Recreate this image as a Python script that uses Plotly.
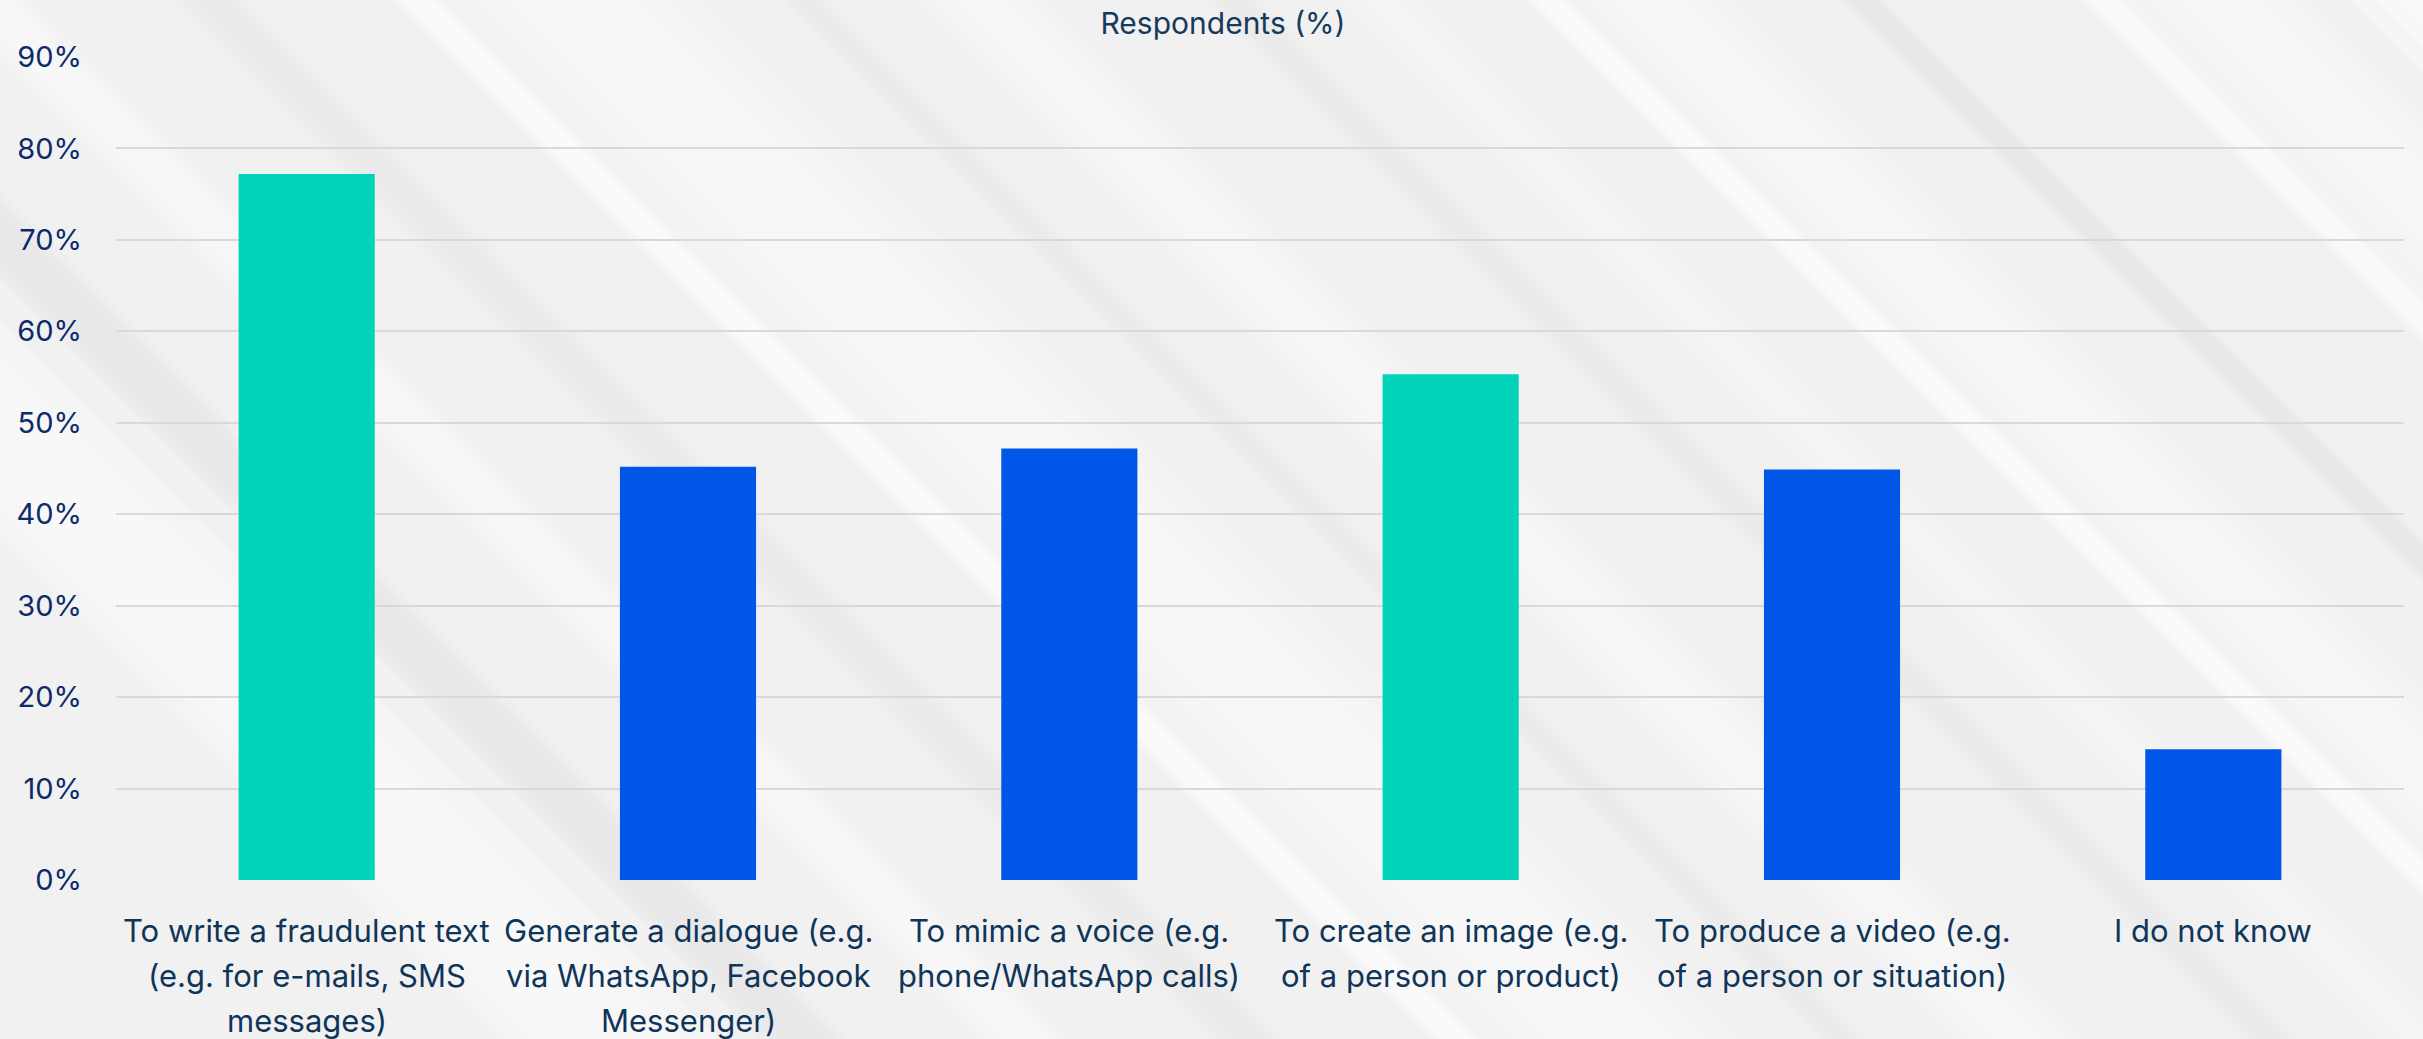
import plotly.graph_objects as go

# Share of respondents per use case
categories = [
    "To write a fraudulent text<br>(e.g. for e-mails, SMS<br>messages)",
    "Generate a dialogue (e.g.<br>via WhatsApp, Facebook<br>Messenger)",
    "To mimic a voice (e.g.<br>phone/WhatsApp calls)",
    "To create an image (e.g.<br>of a person or product)",
    "To produce a video (e.g.<br>of a person or situation)",
    "I do not know",
]
respondents_pct = [77.2, 45.2, 47.2, 55.3, 44.9, 14.3]
y_ticks = [0, 10, 20, 30, 40, 50, 60, 70, 80, 90]
y_tick_labels = [f"{v}%" for v in y_ticks]

TEAL = "#00D3BA"
BLUE = "#0057E7"
highlighted = {0, 3}
bar_colors = [TEAL if i in highlighted else BLUE for i in range(len(categories))]

W, H = 2423, 1039
ML, MR, MT, MB = 116, 19, 57, 159
PW, PH = W - ML - MR, H - MT - MB
FONT = "Inter"
LABEL_COLOR = "#0f3559"


def px_to_paper(px, py):
    return (px - ML) / PW, (H - MB - py) / PH


# Diagonal soft streaks across the backdrop
SLOPE = 1.0  # horizontal shift per pixel of height
streaks = [
    # (x at top edge, width, peak opacity, white or shade)
    (-560, 220, 0.7, True),
    (-300, 90, 0.03, False),
    (-80, 90, 0.55, True),
    (150, 80, 0.025, False),
    (372, 50, 1.0, True),
    (422, 260, 0.55, True),
    (760, 50, 0.025, False),
    (900, 120, 0.5, True),
    (1180, 60, 0.025, False),
    (1320, 80, 0.4, True),
    (1505, 45, 0.9, True),
    (1550, 160, 0.5, True),
    (1820, 45, 0.03, False),
    (2060, 50, 0.8, True),
    (2110, 180, 0.5, True),
    (2330, 220, 0.9, True),
]

shapes = []
y0, y1 = -20, H + 20
FEATHER = 3  # stacked layers give each streak soft edges
for x_top, width, alpha, white in streaks:
    rgb = "255,255,255" if white else "0,0,0"
    for k in range(FEATHER):
        inset = width * 0.12 * k
        left, right = x_top + inset, x_top + width - inset
        pts = [
            (left, y0),
            (right, y0),
            (right + SLOPE * (y1 - y0), y1),
            (left + SLOPE * (y1 - y0), y1),
        ]
        path = "M " + " L ".join(
            "{:.5f},{:.5f}".format(*px_to_paper(x, y)) for x, y in pts
        ) + " Z"
        shapes.append(dict(type="path", path=path, xref="paper", yref="paper",
                           fillcolor=f"rgba({rgb},{alpha / FEATHER:.4f})",
                           line=dict(width=0), layer="below"))

fig = go.Figure(
    go.Bar(
        x=list(range(len(categories))),
        y=respondents_pct,
        marker=dict(color=bar_colors, line=dict(width=0)),
        hoverinfo="skip",
    )
)

# Category labels, one line at a time for wider line spacing
LINE_TOP_PX = 930
LINE_STEP_PX = 45
annotations = []
for i, label in enumerate(categories):
    for j, line in enumerate(label.split("<br>")):
        annotations.append(dict(
            x=i, xref="x",
            y=px_to_paper(0, LINE_TOP_PX + j * LINE_STEP_PX)[1], yref="paper",
            text=line, showarrow=False,
            xanchor="center", yanchor="middle",
            font=dict(family=FONT, size=31, color=LABEL_COLOR),
        ))

fig.update_layout(
    width=W,
    height=H,
    margin=dict(l=ML, r=MR, t=MT, b=MB, pad=0),
    paper_bgcolor="#f1f1f1",
    plot_bgcolor="rgba(0,0,0,0)",
    bargap=0.643,
    showlegend=False,
    shapes=shapes,
    annotations=annotations,
    title=dict(
        text="Respondents (%)",
        x=1223 / W,
        xref="container",
        xanchor="center",
        y=1 - 23 / H,
        yref="container",
        yanchor="middle",
        font=dict(family=FONT, size=30, color="#163a5c"),
    ),
    xaxis=dict(
        range=[-0.5, 5.5],
        showgrid=False,
        showline=False,
        zeroline=False,
        ticks="",
        showticklabels=False,
    ),
    yaxis=dict(
        range=[0, 90],
        tickvals=y_ticks,
        ticktext=y_tick_labels,
        showgrid=True,
        gridcolor="#d9d9d9",
        gridwidth=2,
        zeroline=False,
        showline=False,
        ticks="",
        ticklabelstandoff=33,
        tickfont=dict(family=FONT, size=29, color="#0d2a6b"),
    ),
)

fig.write_html("out.html")
